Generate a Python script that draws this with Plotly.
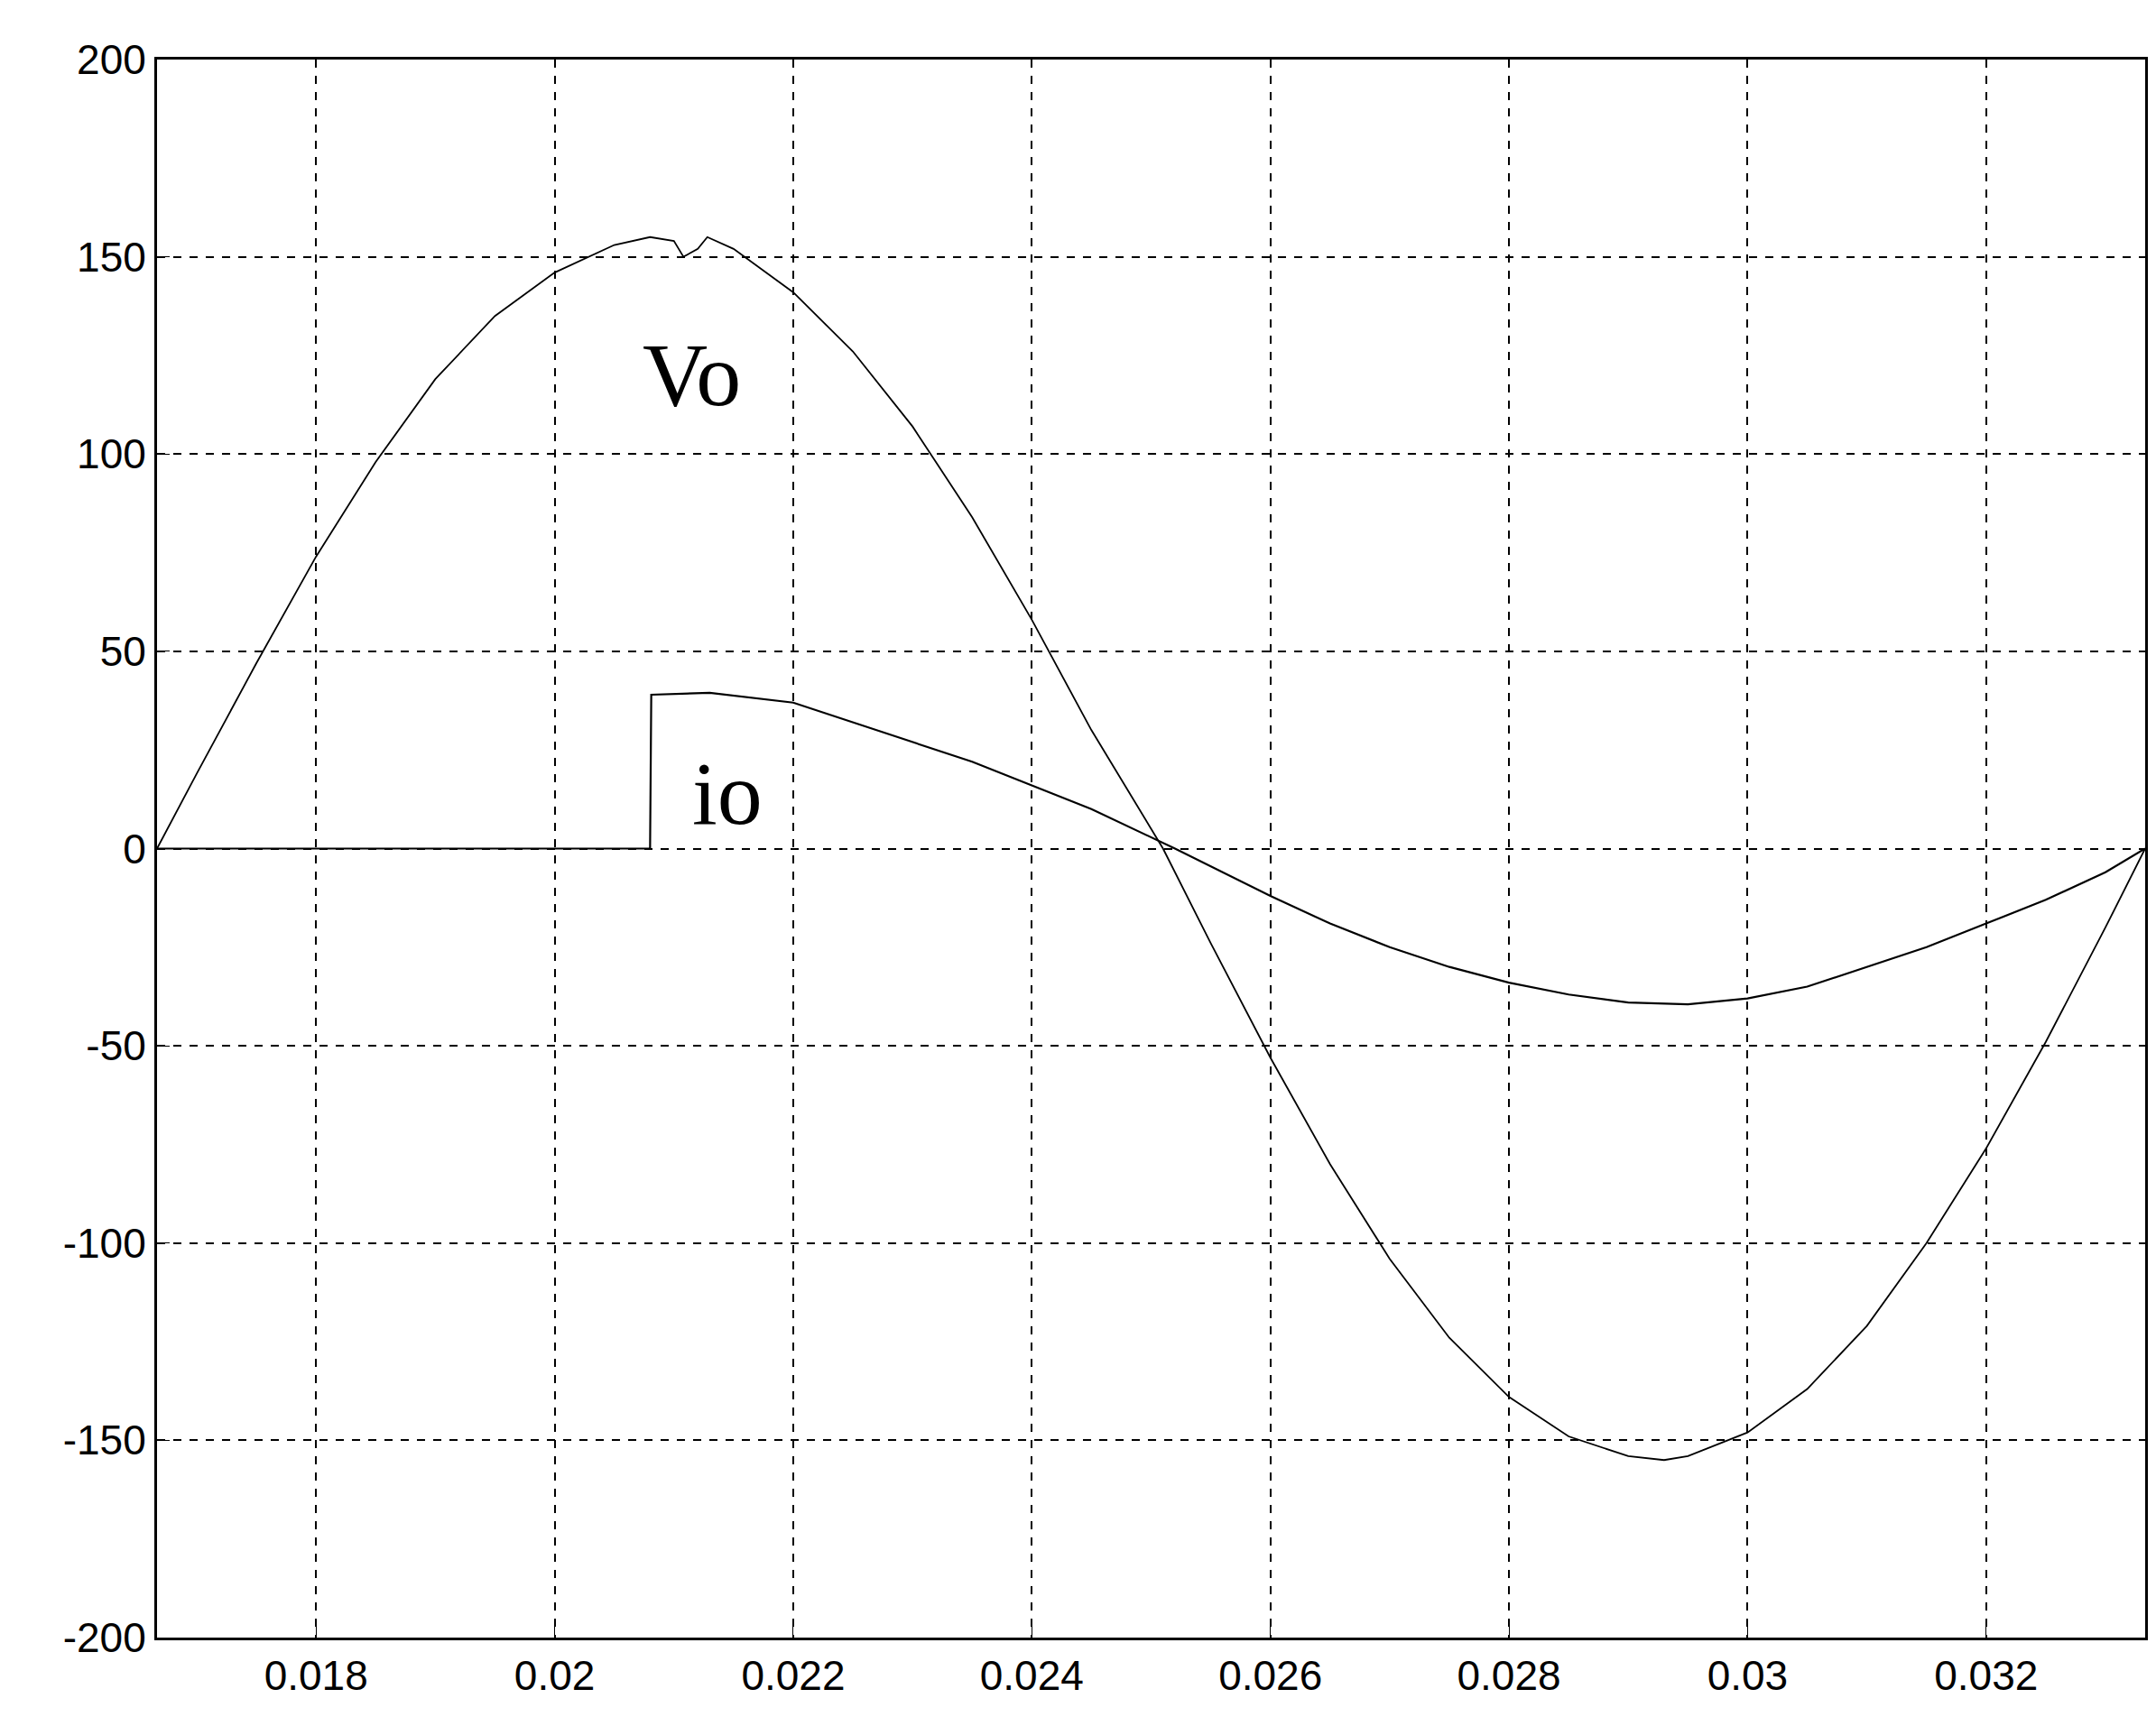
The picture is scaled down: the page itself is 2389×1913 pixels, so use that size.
import plotly.graph_objects as go

# output voltage Vo
vo_t = [0.016667, 0.0170, 0.0175, 0.0180, 0.0185, 0.0190, 0.0195, 0.0200, 0.0205,
        0.0208, 0.0210, 0.02108, 0.0212, 0.02128, 0.0215, 0.0220, 0.0225, 0.0230,
        0.0235, 0.0240, 0.0245, 0.0251, 0.0255, 0.0260, 0.0265, 0.0270, 0.0275,
        0.0280, 0.0285, 0.0290, 0.0293, 0.0295, 0.0300, 0.0305, 0.0310, 0.0315,
        0.0320, 0.0325, 0.0330, 0.033333]
vo_v = [0, 19, 47, 74, 98, 119, 135, 146, 153,
        155, 154, 150, 152, 155, 152, 141, 126, 107,
        84, 58, 30, 0, -24, -53, -80, -104, -124,
        -139, -149, -154, -155, -154, -148, -137, -121, -100,
        -76, -49, -20, 0]

# output current io
io_t = [0.016667, 0.0208, 0.02081, 0.0213, 0.0220, 0.0225, 0.0230, 0.0235, 0.0240,
        0.0245, 0.0252, 0.0260, 0.0265, 0.0270, 0.0275, 0.0280, 0.0285, 0.0290,
        0.0295, 0.0300, 0.0305, 0.0310, 0.0315, 0.0320, 0.0325, 0.0330, 0.033333]
io_v = [0, 0, 39, 39.5, 37, 32, 27, 22, 16,
        10, 0, -12, -19, -25, -30, -34, -37, -39,
        -39.5, -38, -35, -30, -25, -19, -13, -6, 0]

x_ticks = [0.018, 0.020, 0.022, 0.024, 0.026, 0.028, 0.030, 0.032]
x_labels = ["0.018", "0.02", "0.022", "0.024", "0.026", "0.028", "0.03", "0.032"]
y_ticks = [-200, -150, -100, -50, 0, 50, 100, 150, 200]
y_labels = ["-200", "-150", "-100", "-50", "0", "50", "100", "150", "200"]

fig = go.Figure()
fig.add_trace(go.Scatter(x=vo_t, y=vo_v, mode="lines", line=dict(color="black", width=1.8)))
fig.add_trace(go.Scatter(x=io_t, y=io_v, mode="lines", line=dict(color="black", width=2.2)))

fig.add_annotation(x=0.02115, y=120, text="Vo", showarrow=False,
                   font=dict(family="Liberation Serif", size=100, color="black"))
fig.add_annotation(x=0.02145, y=14, text="io", showarrow=False,
                   font=dict(family="Liberation Serif", size=100, color="black"))

axis_style = dict(showline=True, linecolor="black", linewidth=3, mirror=True,
                  showgrid=True, gridcolor="black", gridwidth=2, griddash="dash",
                  zeroline=False, ticks="inside", ticklen=14, tickcolor="black",
                  tickfont=dict(family="Liberation Sans", size=46, color="black"))

fig.update_xaxes(range=[0.016667, 0.033333], tickvals=x_ticks, ticktext=x_labels, **axis_style)
fig.update_yaxes(range=[-200, 200], tickvals=y_ticks, ticktext=y_labels, **axis_style)

fig.update_layout(width=2389, height=1913, showlegend=False,
                  plot_bgcolor="white", paper_bgcolor="white",
                  margin=dict(l=166, r=20, t=58, b=106))

fig.write_html("out.html")
